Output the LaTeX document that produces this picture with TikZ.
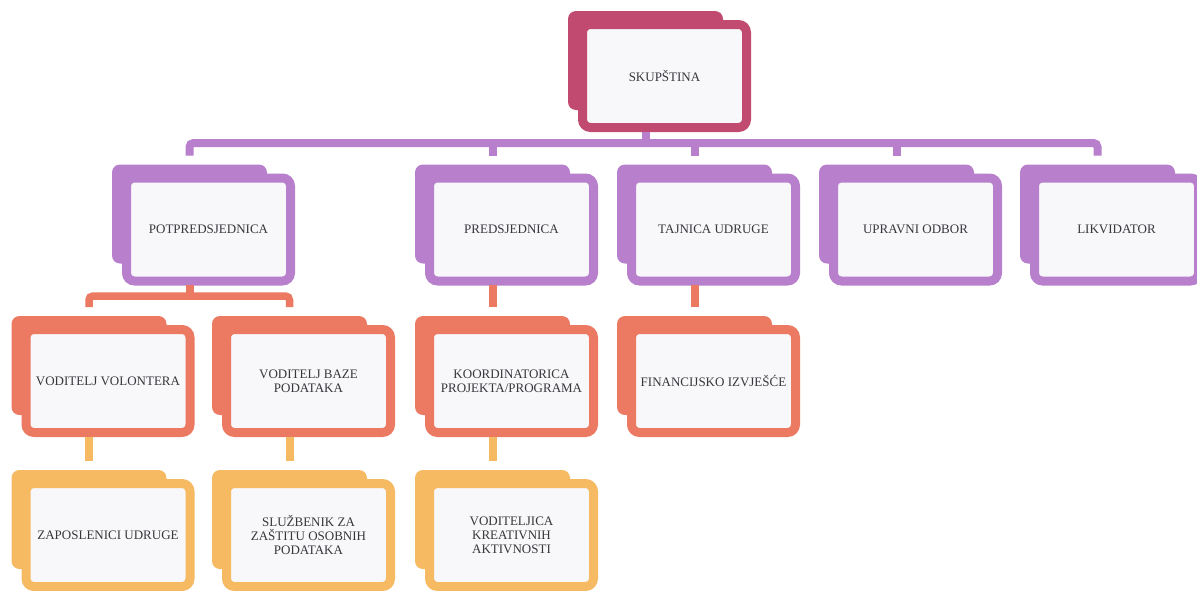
\documentclass[tikz,border=0pt]{standalone}
\usepackage{fontspec}
\setmainfont{Liberation Serif}
\usetikzlibrary{calc}
\definecolor{cred}{RGB}{192,74,112}
\definecolor{cpur}{RGB}{184,128,204}
\definecolor{cora}{RGB}{236,122,98}
\definecolor{cyel}{RGB}{246,186,98}
\definecolor{cfill}{RGB}{248,247,249}
\definecolor{ctext}{RGB}{55,55,60}
\tikzset{
  frontbox/.style={draw=#1, line width=9pt, fill=cfill, rounded corners=8pt,
    minimum width=164pt, minimum height=103pt, inner sep=0pt, align=center,
    text=ctext, font=\fontsize{13}{14}\selectfont},
  backshade/.style={fill=#1, rounded corners=8pt},
  conn/.style={draw=#1, line width=8pt, rounded corners=4pt},
}
\newcommand\orgbox[5]{%
  \fill[backshade=#4] ($(#2,#3)+(-96.5,-65)$) rectangle ($(#2,#3)+(58.5,34)$);
  \node[frontbox=#4] (#1) at (#2,#3) {#5};
}
\begin{document}
\begin{tikzpicture}[x=1pt,y=-1pt]
\useasboundingbox[fill=white] (0,0) rectangle (1197,590);
% level 0
\orgbox{skup}{664.5}{76}{cred}{SKUPŠTINA}
% level 1
\orgbox{potpred}{208.5}{229.5}{cpur}{POTPREDSJEDNICA}
\orgbox{pred}{511.5}{229.5}{cpur}{PREDSJEDNICA}
\orgbox{taj}{713.5}{229.5}{cpur}{TAJNICA UDRUGE}
\orgbox{uprav}{915.5}{229.5}{cpur}{UPRAVNI ODBOR}
\orgbox{likv}{1116.5}{229.5}{cpur}{LIKVIDATOR}
% level 2
\orgbox{vv}{108}{381}{cora}{VODITELJ VOLONTERA}
\orgbox{vbp}{308.5}{381}{cora}{VODITELJ BAZE\\PODATAKA}
\orgbox{koord}{511.5}{381}{cora}{KOORDINATORICA\\PROJEKTA/PROGRAMA}
\orgbox{fin}{713.5}{381}{cora}{FINANCIJSKO IZVJEŠĆE}
% level 3
\orgbox{zap}{108}{535}{cyel}{ZAPOSLENICI UDRUGE}
\orgbox{sluz}{308.5}{535}{cyel}{SLUŽBENIK ZA\\ZAŠTITU OSOBNIH\\PODATAKA}
\orgbox{vodk}{511.5}{535}{cyel}{VODITELJICA\\KREATIVNIH\\AKTIVNOSTI}
% connector end points
\foreach \n in {skup,potpred,pred,taj,vv,vbp,koord}
  \coordinate (s-\n) at ([xshift=-19pt,yshift=0.5pt]\n.south);
\foreach \n in {potpred,pred,taj,uprav,likv,vv,vbp,koord,fin,zap,sluz,vodk}
  \coordinate (t-\n) at ([xshift=-19pt,yshift=18pt]\n.north);
\coordinate (bus) at (0,143);
\coordinate (bustwo) at (0,296);
% level 0 -> level 1
\draw[conn=cpur] (t-potpred) -- (t-potpred |- bus) -- (t-likv |- bus) -- (t-likv);
\draw[conn=cpur] (s-skup) -- (s-skup |- bus);
\draw[conn=cpur] (t-pred) -- (t-pred |- bus);
\draw[conn=cpur] (t-taj) -- (t-taj |- bus);
\draw[conn=cpur] (t-uprav) -- (t-uprav |- bus);
% level 1 -> level 2
\draw[conn=cora, line width=7.5pt] (t-vv) -- (t-vv |- bustwo) -- (t-vbp |- bustwo) -- (t-vbp);
\draw[conn=cora] (s-potpred) -- (s-potpred |- bustwo);
\draw[conn=cora] (s-pred) -- (t-koord);
\draw[conn=cora] (s-taj) -- (t-fin);
% level 2 -> level 3
\draw[conn=cyel] (s-vv) -- (t-zap);
\draw[conn=cyel] (s-vbp) -- (t-sluz);
\draw[conn=cyel] (s-koord) -- (t-vodk);
\end{tikzpicture}
\end{document}
